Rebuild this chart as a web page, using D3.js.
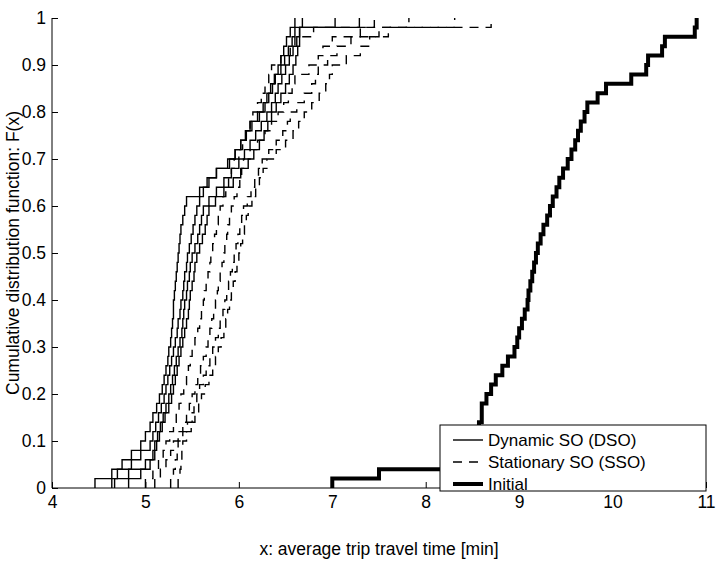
<!DOCTYPE html>
<html>
<head>
<meta charset="utf-8">
<script src="https://cdn.jsdelivr.net/npm/d3@7/dist/d3.min.js"></script>
<style>
  body { margin: 0; background: #fff; }
  svg { display: block; }
  text { font-family: "Liberation Sans", Arial, Helvetica, sans-serif; fill: #000; }
</style>
</head>
<body>
<svg id="chart" width="717" height="569"></svg>
<script>
// Tick values and labels
const xTicks = [4, 5, 6, 7, 8, 9, 10, 11];
const yTicks = [0, 0.1, 0.2, 0.3, 0.4, 0.5, 0.6, 0.7, 0.8, 0.9, 1];
const yTickLabels = ["0", "0.1", "0.2", "0.3", "0.4", "0.5", "0.6", "0.7", "0.8", "0.9", "1"];

// Sorted average trip travel times [min], 50 runs per scenario
const dsoRun1 = [4.46, 4.64, 4.75, 4.85, 4.95, 5.00, 5.05, 5.08, 5.12, 5.15,
                 5.18, 5.20, 5.22, 5.24, 5.25, 5.27, 5.28, 5.29, 5.30, 5.30,
                 5.31, 5.32, 5.33, 5.34, 5.35, 5.36, 5.37, 5.38, 5.40, 5.42,
                 5.44, 5.58, 5.66, 5.76, 5.88, 5.96, 6.02, 6.08, 6.14, 6.22,
                 6.28, 6.32, 6.36, 6.39, 6.42, 6.45, 6.48, 6.51, 6.55, 6.60];
const dsoRun2 = [4.64, 4.70, 4.85, 4.95, 5.05, 5.08, 5.11, 5.14, 5.17, 5.20,
                 5.22, 5.24, 5.26, 5.28, 5.30, 5.32, 5.34, 5.35, 5.37, 5.38,
                 5.40, 5.41, 5.42, 5.44, 5.45, 5.47, 5.49, 5.51, 5.53, 5.55,
                 5.58, 5.62, 5.68, 5.76, 5.90, 5.96, 6.02, 6.07, 6.12, 6.20,
                 6.26, 6.30, 6.34, 6.38, 6.45, 6.49, 6.53, 6.57, 6.60, 6.68];
const dsoRun3 = [4.67, 4.82, 5.00, 5.08, 5.10, 5.13, 5.16, 5.19, 5.22, 5.25,
                 5.27, 5.29, 5.31, 5.33, 5.35, 5.37, 5.39, 5.40, 5.41, 5.42,
                 5.44, 5.45, 5.47, 5.48, 5.50, 5.53, 5.56, 5.58, 5.60, 5.62,
                 5.68, 5.76, 5.84, 5.92, 6.00, 6.06, 6.12, 6.18, 6.24, 6.30,
                 6.35, 6.39, 6.42, 6.46, 6.50, 6.54, 6.58, 6.62, 6.65, 7.03];
const dsoRun4 = [4.82, 4.95, 5.05, 5.10, 5.12, 5.15, 5.18, 5.21, 5.25, 5.28,
                 5.30, 5.32, 5.34, 5.36, 5.38, 5.40, 5.42, 5.44, 5.46, 5.47,
                 5.48, 5.50, 5.52, 5.53, 5.55, 5.58, 5.61, 5.64, 5.66, 5.68,
                 5.75, 5.84, 5.94, 6.02, 6.10, 6.16, 6.22, 6.27, 6.31, 6.35,
                 6.40, 6.45, 6.50, 6.54, 6.58, 6.61, 6.63, 6.65, 6.65, 7.29];

const ssoRun1 = [5.00, 5.08, 5.14, 5.19, 5.22, 5.26, 5.30, 5.33, 5.36, 5.38,
                 5.41, 5.44, 5.46, 5.48, 5.50, 5.53, 5.56, 5.58, 5.60, 5.62,
                 5.63, 5.65, 5.67, 5.69, 5.70, 5.72, 5.74, 5.76, 5.78, 5.80,
                 5.83, 5.86, 5.89, 5.92, 5.95, 6.00, 6.04, 6.08, 6.12, 6.15,
                 6.20, 6.24, 6.28, 6.32, 6.35, 6.45, 6.55, 6.60, 6.80, 7.45];
const ssoRun2 = [5.10, 5.16, 5.22, 5.27, 5.30, 5.35, 5.40, 5.44, 5.47, 5.50,
                 5.53, 5.56, 5.59, 5.62, 5.65, 5.67, 5.69, 5.71, 5.73, 5.75,
                 5.77, 5.78, 5.80, 5.82, 5.84, 5.85, 5.87, 5.88, 5.90, 5.92,
                 5.95, 5.98, 6.01, 6.03, 6.05, 6.12, 6.20, 6.28, 6.35, 6.42,
                 6.48, 6.53, 6.57, 6.60, 6.75, 6.85, 6.90, 7.00, 7.30, 7.82];
const ssoRun3 = [5.27, 5.30, 5.32, 5.34, 5.35, 5.40, 5.45, 5.50, 5.52, 5.55,
                 5.58, 5.62, 5.65, 5.69, 5.72, 5.75, 5.78, 5.80, 5.83, 5.85,
                 5.87, 5.89, 5.91, 5.93, 5.95, 5.97, 5.99, 6.01, 6.03, 6.05,
                 6.09, 6.13, 6.17, 6.21, 6.25, 6.32, 6.40, 6.47, 6.52, 6.55,
                 6.62, 6.70, 6.78, 6.82, 6.85, 6.95, 7.05, 7.20, 7.50, 8.31];
const ssoRun4 = [5.35, 5.37, 5.38, 5.39, 5.40, 5.44, 5.49, 5.53, 5.57, 5.60,
                 5.64, 5.68, 5.72, 5.75, 5.78, 5.81, 5.84, 5.86, 5.88, 5.90,
                 5.92, 5.94, 5.96, 5.98, 6.00, 6.02, 6.04, 6.06, 6.08, 6.10,
                 6.14, 6.18, 6.22, 6.26, 6.30, 6.40, 6.50, 6.58, 6.64, 6.70,
                 6.78, 6.86, 6.93, 6.97, 7.00, 7.15, 7.30, 7.40, 7.60, 8.70];

const initialRun = [7.00, 7.50, 8.20, 8.35, 8.45, 8.52, 8.57, 8.60, 8.60, 8.65,
                    8.70, 8.75, 8.82, 8.88, 8.95, 8.98, 9.00, 9.03, 9.06, 9.09,
                    9.10, 9.12, 9.14, 9.16, 9.18, 9.20, 9.23, 9.26, 9.30, 9.33,
                    9.36, 9.40, 9.43, 9.47, 9.52, 9.56, 9.60, 9.63, 9.66, 9.70,
                    9.73, 9.84, 9.93, 10.20, 10.36, 10.38, 10.53, 10.56, 10.88, 10.90];

const legendLabels = ["Dynamic SO (DSO)", "Stationary SO (SSO)", "Initial"];

// Layout
const W = 717, H = 569;
const m = { left: 52, top: 18, right: 11, bottom: 81 };
const plotW = W - m.left - m.right;
const plotH = H - m.top - m.bottom;
const fontSize = 17.5;

const svg = d3.select("#chart");
const g = svg.append("g").attr("transform", `translate(${m.left},${m.top})`);

const x = d3.scaleLinear().domain([4, 11]).range([0, plotW]);
const y = d3.scaleLinear().domain([0, 1]).range([plotH, 0]);

const styles = {
  dso: { width: 1.4, dash: null },
  sso: { width: 1.4, dash: "9,7" },
  init: { width: 4, dash: null }
};

const series = [
  { values: dsoRun1, kind: "dso" }, { values: dsoRun2, kind: "dso" },
  { values: dsoRun3, kind: "dso" }, { values: dsoRun4, kind: "dso" },
  { values: ssoRun1, kind: "sso" }, { values: ssoRun2, kind: "sso" },
  { values: ssoRun3, kind: "sso" }, { values: ssoRun4, kind: "sso" },
  { values: initialRun, kind: "init" }
];

// Empirical CDF as a staircase: rise at each sorted sample by 1/n
function ecdfPoints(vals) {
  const n = vals.length;
  const pts = [[vals[0], 0]];
  vals.forEach((v, i) => pts.push([v, (i + 1) / n]));
  return pts;
}

const line = d3.line()
  .x(d => x(d[0]))
  .y(d => y(d[1]))
  .curve(d3.curveStepAfter);

g.append("g").selectAll("path")
  .data(series)
  .join("path")
  .attr("d", d => line(ecdfPoints(d.values)))
  .attr("fill", "none")
  .attr("stroke", "#000")
  .attr("stroke-width", d => styles[d.kind].width)
  .attr("stroke-dasharray", d => styles[d.kind].dash)
  .attr("stroke-linejoin", "miter")
  .attr("stroke-linecap", "butt");

// Axes (ticks pointing inward)
const xAxis = d3.axisBottom(x).tickValues(xTicks).tickSize(-6).tickPadding(8).tickFormat(d3.format("d"));
const yAxis = d3.axisLeft(y).tickValues(yTicks).tickSize(-6).tickPadding(6)
  .tickFormat((d, i) => yTickLabels[i]);

const gx = g.append("g").attr("transform", `translate(0,${plotH})`).call(xAxis);
const gy = g.append("g").call(yAxis);
[gx, gy].forEach(a => {
  a.select(".domain").attr("stroke", "#000").attr("stroke-width", 1);
  a.selectAll(".tick line").attr("stroke", "#000").attr("stroke-width", 1);
  a.selectAll(".tick text").attr("font-size", fontSize).attr("fill", "#000")
    .attr("font-family", "Liberation Sans, Arial, sans-serif");
});
gx.select(".domain").attr("d", `M0,0H${plotW}`);
gy.select(".domain").attr("d", `M0,${plotH}V0`);

// Axis titles
svg.append("text")
  .attr("x", m.left + plotW / 2).attr("y", 555)
  .attr("text-anchor", "middle").attr("font-size", fontSize)
  .text("x: average trip travel time [min]");
svg.append("text")
  .attr("transform", `translate(19,${m.top + plotH / 2}) rotate(-90)`)
  .attr("text-anchor", "middle").attr("font-size", fontSize)
  .text("Cumulative distribution function: F(x)");

// Legend (south-east corner)
const legW = 266, legH = 66;
const lg = g.append("g").attr("transform", `translate(${plotW - legW},${plotH - legH + 3})`);
lg.append("rect").attr("width", legW).attr("height", legH)
  .attr("fill", "#fff").attr("stroke", "#000").attr("stroke-width", 1);
const legKinds = ["dso", "sso", "init"];
legendLabels.forEach((lab, i) => {
  const cy = 15 + i * 22;
  lg.append("line").attr("x1", 13).attr("x2", 43).attr("y1", cy).attr("y2", cy)
    .attr("stroke", "#000").attr("stroke-width", styles[legKinds[i]].width)
    .attr("stroke-dasharray", styles[legKinds[i]].dash);
  lg.append("text").attr("x", 48).attr("y", cy).attr("dy", "0.35em")
    .attr("font-size", 17).text(lab);
});
</script>
</body>
</html>
